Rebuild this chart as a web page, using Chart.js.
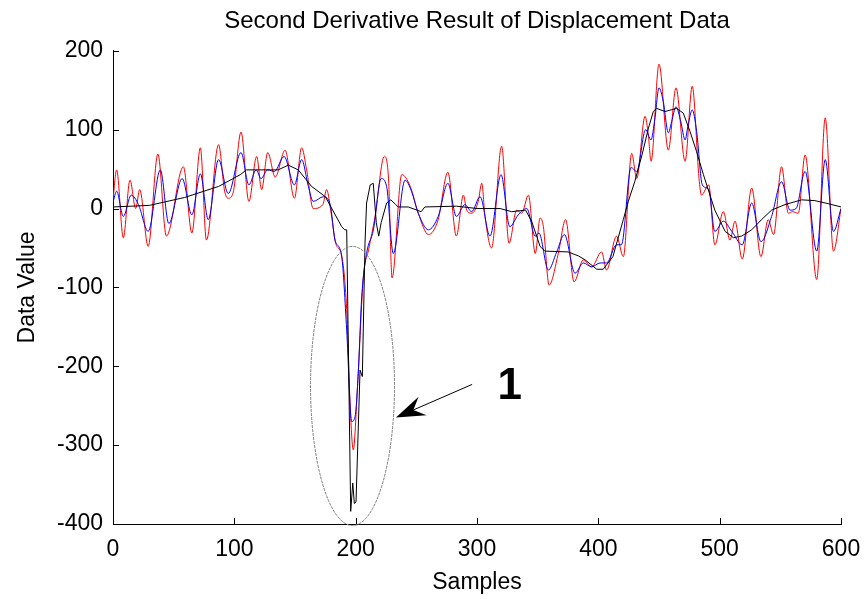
<!DOCTYPE html>
<html>
<head>
<meta charset="utf-8">
<script src="https://cdn.jsdelivr.net/npm/chart.js@4.4.0/dist/chart.umd.min.js"></script>
<style>
  html, body { margin: 0; padding: 0; background: #fff; }
</style>
</head>
<body>
<canvas id="myChart" width="866" height="599"></canvas>
<script>
// samples / values
const redX = [0, 3, 8.5, 14, 18.7, 22, 29, 37, 44, 58, 65, 72, 77, 87, 92, 95, 99, 105.5, 112, 118.4, 122.5, 127.5, 133.7, 141.8, 149.5, 155.5, 159.6, 165, 173, 176, 180, 183.5, 188.5, 192.6, 195.5, 198, 201.5, 206.4, 210.7, 216, 223.6, 227, 230, 238, 245, 251.6, 260, 268, 276, 283, 288.8, 291.5, 295.6, 301, 303.9, 306.6, 312, 320.3, 326.4, 332.7, 336.8, 342.4, 348, 352, 354.7, 359.4, 367, 373, 380, 387.6, 394.5, 402.7, 406.8, 415, 420.6, 427.5, 431.6, 438.5, 441.2, 443.5, 450, 457.7, 464, 471.5, 477.4, 483, 485, 491, 496, 503, 508.5, 512.6, 518.6, 526.4, 534, 540, 544.4, 551, 556.6, 560, 564.8, 570.4, 580, 587, 593.8, 600];
const redY = [12, 49, -37, 36, 0, 24, -48, 69, -35, 53, -31, 77, -40, 81, 22, 13, 20, 97, 9, 66, 24, 71, 40, 74, 13, 77, 49, 0, 5, 24, -8, -44, -60, -128, -251, -306, -226, -86, -52, -10, 66, 40, -88, 43, 28, -6, -33, -14, 46, -35, 17, -2, -6, 9, 32, -10, -50, 79, -44, -2, -6, 17, -57, -12, -23, -97, -57, -14, -93, -65, -74, -55, -78, -35, -61, 70, 38, 117, 93, 60, 183, 74, 153, 60, 155, 38, 17, 30, -46, -4, -40, -16, -64, 26, -61, -14, -33, 53, -6, -4, -6, 68, -90, 115, -54, 0];

const blueX = [0, 3, 8.5, 15, 21, 29, 39, 46, 57, 65, 72, 78.5, 87, 95, 105.5, 112, 118, 122, 127.5, 133, 141, 149.5, 155.5, 161, 165, 173.5, 179, 183, 188.5, 192.6, 196.7, 199.5, 202, 205, 209, 214.6, 221, 225.5, 231, 240.7, 246, 251.6, 260, 268, 276, 283, 290, 295.6, 302.5, 310.7, 319.8, 327, 334, 341, 348, 351, 358.8, 365.7, 372, 380.8, 387.6, 394.5, 401.4, 406.8, 415, 419, 427, 431.6, 439, 443.4, 446.7, 450, 453.5, 457.7, 460.4, 464, 468, 471.5, 474, 477.4, 481, 485.7, 491, 496, 503, 510, 518.6, 526.4, 534, 542.8, 551, 558, 563, 570.4, 580, 587, 593.8, 600];
const blueY = [8, 22, -10, 17, 5, -29, 49, -19, 38, -8, 44, -14, 62, 19, 71, 30, 49, 38, 49, 47, 66, 30, 62, 28, 9, 15, 5, -40, -61, -154, -270, -264, -213, -112, -57, -27, 38, 28, -57, 36, 22, -6, -27, -10, 32, -10, 5, -4, 15, -35, 43, -23, -8, 0, -35, -31, -78, -55, -33, -82, -69, -74, -69, -69, -46, -46, 52, 47, 100, 87, 115, 153, 136, 96, 110, 129, 110, 87, 106, 125, 98, 30, 24, -29, -16, -29, -46, 7, -42, -10, 34, -2, 0, 47, -54, 62, -29, 0];

const blackX = [0, 30, 59, 87, 105, 110, 136, 144.5, 152.7, 163.7, 175, 188.5, 191, 192.6, 195.9, 197.6, 198.9, 200.3, 203.6, 205.5, 207.7, 209, 212, 214.5, 217, 219, 221, 225.5, 229, 233, 235, 243.4, 254, 257, 283, 300, 319, 328.6, 340, 345, 352, 356, 375, 383.5, 389, 398.7, 404, 412, 420.6, 424.7, 430, 436, 441.3, 445.3, 448, 455, 464.5, 470, 475.5, 481, 486.6, 496, 504.5, 511.4, 518, 526.4, 534.6, 542.8, 553.8, 567.5, 578.5, 590, 600];
const blackY = [2, 4, 14, 28, 43, 49, 49, 55, 49, 28, 15, -23, -27, -27, -384, -348, -374, -372, -205, -213, -44, 7, 30, 32, -18, -35, -18, 7, 11, 5, 2, 2, -4, 2, 3, 0, 0, -4, -2, -16, -48, -54, -55, -60, -65, -77, -77, -61, -14, 9, 34, 68, 102, 123, 127, 123, 127, 121, 98, 72, 43, -2, -29, -37, -35, -27, -14, -2, 5, 11, 10, 6, 2];

const xTicks = [0, 100, 200, 300, 400, 500, 600];
const yTicks = [-400, -300, -200, -100, 0, 100, 200];

// callout: ellipse round the dip, arrow and its label
const ringCenter = [197.4, -225];
const ringRadius = [34.6, 177];
const arrowTail = [296, -223];
const arrowTip = [233.2, -265];
const calloutText = '1';
const calloutAt = [327, -226];

const FONT = "'Liberation Sans', Arial, Helvetica, sans-serif";

function toPoints(xs, ys) {
    var pts = [];
    for (var i = 0; i < xs.length; i++) pts.push({x: xs[i], y: ys[i]});
    return pts;
}

const callout = {
    id: 'callout',
    afterDatasetsDraw(chart) {
        const ctx = chart.ctx;
        const xs = chart.scales.x, ys = chart.scales.y;
        const area = chart.chartArea;
        ctx.save();

        // matlab style ticks pointing inward
        ctx.strokeStyle = '#000';
        ctx.lineWidth = 1;
        ctx.beginPath();
        xTicks.forEach(t => {
            const px = Math.round(xs.getPixelForValue(t)) + 0.5;
            ctx.moveTo(px, area.bottom);
            ctx.lineTo(px, area.bottom - 6);
        });
        yTicks.forEach(t => {
            const py = Math.round(ys.getPixelForValue(t)) + 0.5;
            ctx.moveTo(area.left, py);
            ctx.lineTo(area.left + 6, py);
        });
        ctx.stroke();

        // ellipse
        const cx = xs.getPixelForValue(ringCenter[0]);
        const cy = ys.getPixelForValue(ringCenter[1]);
        const rx = Math.abs(xs.getPixelForValue(ringCenter[0] + ringRadius[0]) - cx);
        const ry = Math.abs(ys.getPixelForValue(ringCenter[1] + ringRadius[1]) - cy);
        ctx.strokeStyle = '#7a7a7a';
        ctx.setLineDash([3, 1]);
        ctx.beginPath();
        ctx.ellipse(cx, cy, rx, ry, 0, 0, Math.PI * 2);
        ctx.stroke();
        ctx.setLineDash([]);

        // arrow
        const tx = xs.getPixelForValue(arrowTip[0]), ty = ys.getPixelForValue(arrowTip[1]);
        const sx = xs.getPixelForValue(arrowTail[0]), sy = ys.getPixelForValue(arrowTail[1]);
        const len = Math.hypot(sx - tx, sy - ty);
        const dx = (sx - tx) / len, dy = (sy - ty) / len;
        const nx = -dy, ny = dx;
        ctx.strokeStyle = '#000';
        ctx.beginPath();
        ctx.moveTo(tx + dx * 19, ty + dy * 19);
        ctx.lineTo(sx, sy);
        ctx.stroke();
        ctx.fillStyle = '#000';
        ctx.beginPath();
        ctx.moveTo(tx, ty);
        ctx.lineTo(tx + dx * 29 - nx * 10, ty + dy * 29 - ny * 10);
        ctx.lineTo(tx + dx * 19, ty + dy * 19);
        ctx.lineTo(tx + dx * 29 + nx * 10, ty + dy * 29 + ny * 10);
        ctx.closePath();
        ctx.fill();

        // label
        ctx.font = 'bold 44px ' + FONT;
        ctx.textAlign = 'center';
        ctx.textBaseline = 'middle';
        ctx.fillText(calloutText, xs.getPixelForValue(calloutAt[0]), ys.getPixelForValue(calloutAt[1]));
        ctx.restore();
    }
};

function RenderChart() {
    const ctx = document.getElementById('myChart');
    const line = {pointRadius: 0, borderWidth: 1, fill: false, cubicInterpolationMode: 'monotone'};
    const data = {
        datasets: [
            Object.assign({label: 'smoothed', data: toPoints(blackX, blackY), borderColor: '#000000'}, line, {cubicInterpolationMode: 'default', tension: 0}),
            Object.assign({label: 'filtered', data: toPoints(blueX, blueY), borderColor: '#0000ff'}, line),
            Object.assign({label: 'raw', data: toPoints(redX, redY), borderColor: '#ff0000'}, line)
        ]
    };
    const tickFont = {family: FONT, size: 23};
    const config = {
        type: 'line',
        data: data,
        plugins: [callout],
        options: {
            responsive: false,
            animation: false,
            events: [],
            layout: {padding: {left: 0, right: 0, top: 0, bottom: 0}},
            plugins: {
                legend: {display: false},
                tooltip: {enabled: false},
                title: {
                    display: true,
                    text: 'Second Derivative Result of Displacement Data',
                    color: '#000',
                    fullSize: false,
                    font: {family: FONT, size: 24, weight: 'normal'},
                    padding: {top: 7, bottom: 15}
                }
            },
            scales: {
                x: {
                    type: 'linear',
                    min: 0,
                    max: 600,
                    afterBuildTicks: s => { s.ticks = xTicks.map(v => ({value: v})); },
                    afterFit: s => { s.height = 75; s.paddingRight = 25; },
                    grid: {display: false, drawTicks: false},
                    border: {display: true, color: '#000', width: 1},
                    ticks: {color: '#000', font: tickFont, padding: 12, maxRotation: 0},
                    title: {display: true, text: 'Samples', color: '#000', font: tickFont, padding: {top: 0, bottom: 3}}
                },
                y: {
                    type: 'linear',
                    min: -400,
                    max: 200,
                    afterBuildTicks: s => { s.ticks = yTicks.map(v => ({value: v})); },
                    afterFit: s => { s.width = 113; },
                    grid: {display: false, drawTicks: false},
                    border: {display: true, color: '#000', width: 1},
                    ticks: {color: '#000', font: tickFont, padding: 10},
                    title: {display: true, text: 'Data Value', color: '#000', font: tickFont, padding: {top: 14, bottom: 0}}
                }
            }
        }
    };
    new Chart(ctx, config);
}
RenderChart();
</script>
</body>
</html>
